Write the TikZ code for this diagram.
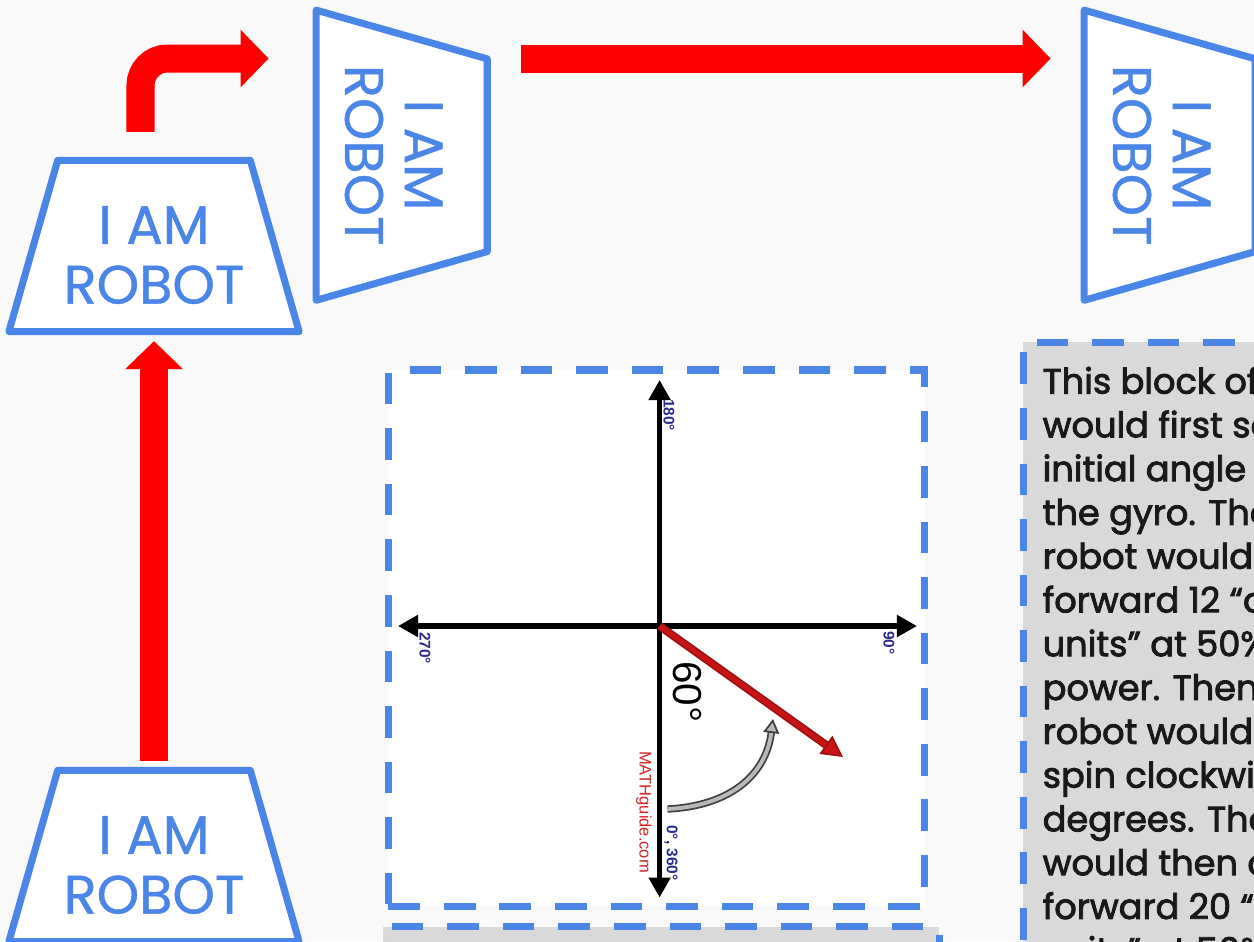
\documentclass[tikz,border=0pt]{standalone}
\usepackage{fontspec}
\setmainfont{Poppins}
\newfontfamily\figfont{Liberation Sans}
\newfontfamily\notefont[FakeBold=2.4]{Poppins}
\newfontfamily\robotfont[FakeBold=0.8]{Poppins}
\usetikzlibrary{shapes.geometric, arrows.meta, positioning, calc}
\definecolor{robotblue}{HTML}{4A86E8}
\definecolor{arrowred}{HTML}{FF0000}
\definecolor{slidebg}{HTML}{F9F9F9}
\definecolor{notegray}{HTML}{D9D9D9}
\definecolor{labelnavy}{HTML}{2B2B8C}
\definecolor{siteRed}{HTML}{D42424}
\definecolor{headingRed}{HTML}{C81414}

\tikzset{
  robot/.style={trapezium, trapezium stretches=true,
    trapezium left angle=75.8, trapezium right angle=75.8,
    minimum width=2.9cm, minimum height=1.71cm, inner sep=2pt,
    draw=robotblue, line width=2pt, line join=round, fill=white},
  robottext/.style={text=robotblue, align=center, inner sep=0pt,
    font=\robotfont\fontsize{15.4}{17}\selectfont},
  flow/.style={draw=arrowred, line width=0.28cm,
    -{Triangle[length=0.28cm, width=0.56cm]}},
  dashbox/.style={rectangle, draw=robotblue, line width=2pt,
    dash pattern=on 9pt off 6.8pt, inner sep=0pt},
  notebox/.style={dashbox, fill=notegray},
  notetext/.style={align=left, inner sep=0pt, text=black!90,
    font=\notefont\fontsize{10}{12.45}\selectfont},
  axisline/.style={line width=1.6pt,
    {Triangle[length=0.2cm, width=0.21cm]}-{Triangle[length=0.2cm, width=0.21cm]}},
  anglelabel/.style={text=labelnavy, rotate=-90, inner sep=0pt,
    font=\figfont\bfseries\fontsize{4.4}{5}\selectfont},
}

\begin{document}
\begin{tikzpicture}[x=0.01cm, y=-0.01cm]
  \useasboundingbox (0,0) rectangle (1254,941);
  \clip (0,0) rectangle (1254,941);
  \fill[slidebg] (0,0) rectangle (1254,941);

  % robots
  \node[robot] (robotStart) at (154,856) {};
  \node[robot] (robotAhead) at (154,246) {};
  \node[robot, rotate=-90] (robotTurned) at (401.7,155.2) {};
  \node[robot, rotate=-90] (robotEnd) at (1169.7,155.2) {};

  \node[robottext] (startText) at ([yshift=-0.09cm]robotStart.center) {I AM\\ROBOT};
  \node[robottext] (aheadText) at ([yshift=-0.09cm]robotAhead.center) {I AM\\ROBOT};
  \node[robottext, rotate=-90] (turnedText) at ([xshift=-0.08cm]robotTurned.center) {I AM\\ROBOT};
  \node[robottext, rotate=-90] (endText) at ([xshift=-0.08cm]robotEnd.center) {I AM\\ROBOT};

  % moves
  \coordinate (lane) at (0,58.5);
  \draw[flow, shorten <=0.06cm, shorten >=0.06cm] (robotStart.north) -- (robotAhead.south);
  \draw[flow, rounded corners=0.27cm, shorten >=0.44cm]
    ([xshift=-0.135cm, yshift=0.25cm]robotAhead.north) |- (lane -| robotTurned.south);
  \draw[flow, shorten <=0.3cm, shorten >=0.3cm] (lane -| robotTurned.north) -- (lane -| robotEnd.south);

  % gyro figure
  \node[dashbox, fill=white, minimum width=5.36cm, minimum height=5.357cm] (gyroFig) at (656.5,638) {};
  \coordinate (origin) at (659.6,626);
  \coordinate (deg0) at (659.6,897.5);
  \coordinate (deg180) at (659.6,380);
  \coordinate (deg90) at (917,626);
  \coordinate (deg270) at (398,626);
  \coordinate (heading) at (843,757);
  \coordinate (turnStart) at (667.5,809);
  \coordinate (turnEnd) at (773,719);
  \draw[axisline] (deg270) -- (deg90);
  \draw[axisline] (deg0) -- (deg180);
  \draw[draw=headingRed!80!black, double=headingRed, double distance=1.3pt, line width=0.5pt,
    -{Triangle[length=0.21cm, width=0.22cm, fill=headingRed]}] (origin) -- (heading);
  \draw[draw=black!75, double=gray!55, double distance=1.1pt, line width=0.5pt,
    -{Triangle[length=0.14cm, width=0.16cm, fill=gray!55]}]
    (turnStart) .. controls (730,806) and (766,775) .. (turnEnd);

  \node[anglelabel] (lbl180) at (669,415) {180°};
  \node[anglelabel] (lbl270) at (425,648) {270°};
  \node[anglelabel] (lbl90) at (889,643) {90°};
  \node[anglelabel] (lbl0) at (671,853) {0°, 360°};
  \node[rotate=-90, inner sep=0pt, text=siteRed, font=\figfont\fontsize{4.7}{5}\selectfont] (siteName) at (644,812) {MATHguide.com};
  \node[rotate=-90, inner sep=0pt, font=\figfont\fontsize{11.5}{12}\selectfont] (lbl60) at (687,692) {60°};

  % notes
  \node[notebox, anchor=north west, minimum width=4cm, minimum height=8cm] (noteBox) at (1019.5,338.5) {};
  \node[notetext, anchor=north west] (noteText) at (1042,366) {This block of\\would first se\\initial angle t\\the gyro. The\\robot would d\\forward 12 “d\\units” at 50\%\\power. Then t\\robot would s\\spin clockwis\\degrees. The\\would then d\\forward 20 “d\\units” at 50\%};
  \node[notebox, anchor=north west, minimum width=5.56cm, minimum height=1.5cm] (codeBox) at (379.5,923) {};
\end{tikzpicture}
\end{document}
